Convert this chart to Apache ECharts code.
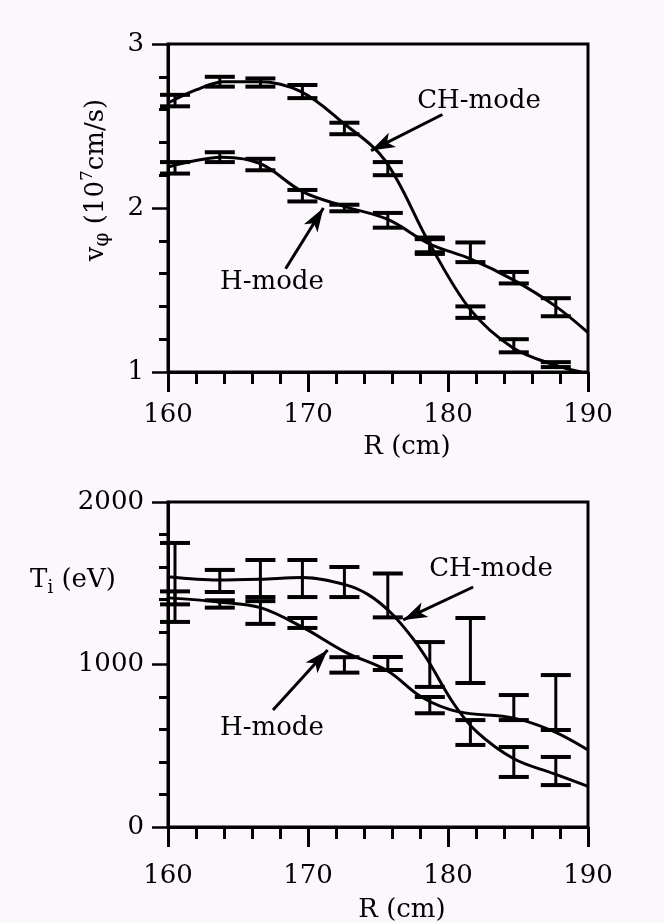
<!DOCTYPE html>
<html>
<head>
<meta charset="utf-8">
<script src="https://cdn.jsdelivr.net/npm/echarts@6/dist/echarts.min.js"></script>
<style>
html,body{margin:0;padding:0;background:#fcf7fc;}
#c{width:664px;height:923px;}
</style>
</head>
<body>
<div id="c"></div>
<script>
// ---- data ----
const radius = [160.5, 163.7, 166.6, 169.6, 172.6, 175.7, 178.7, 181.6, 184.7, 187.7];

// top panel: toroidal velocity v_phi (10^7 cm/s), error bar low/high
const chVLow  = [2.62, 2.74, 2.74, 2.67, 2.45, 2.20, 1.72, 1.33, 1.12, 1.03];
const chVHigh = [2.69, 2.80, 2.79, 2.75, 2.52, 2.28, 1.82, 1.40, 1.20, 1.06];
const hVLow   = [2.21, 2.28, 2.23, 2.04, 1.98, 1.88, 1.73, 1.67, 1.54, 1.34];
const hVHigh  = [2.28, 2.34, 2.30, 2.11, 2.02, 1.97, 1.81, 1.79, 1.61, 1.45];
// fitted curves (top)
const chVFitR = [160, 162, 164, 166.5, 169.5, 172.5, 175.5, 178.7, 181.6, 184.6, 187.7, 189.5];
const chVFit  = [2.64, 2.72, 2.77, 2.77, 2.71, 2.52, 2.29, 1.78, 1.38, 1.15, 1.04, 1.0];
const hVFitR  = [160, 163.9, 166.6, 169.6, 172.6, 175.7, 178.7, 181.6, 184.7, 187.7, 190];
const hVFit   = [2.25, 2.31, 2.27, 2.10, 2.01, 1.93, 1.78, 1.69, 1.56, 1.40, 1.24];

// bottom panel: ion temperature T_i (eV), error bar low/high
const chTLow  = [1262, 1446, 1415, 1415, 1415, 1290, 862, 505, 308, 258];
const chTHigh = [1748, 1582, 1643, 1643, 1600, 1560, 1138, 658, 492, 431];
const hTLow   = [1370, 1350, 1250, 1225, 950, 966, 700, 886, 658, 597];
const hTHigh  = [1450, 1395, 1390, 1286, 1045, 1046, 800, 1286, 812, 935];
// fitted curves (bottom)
const chTFitR = [160, 163.6, 166.6, 169.6, 172.7, 174.3, 175.9, 177.4, 178.6, 180.4, 182, 184.7, 187.5, 190];
const chTFit  = [1540, 1520, 1525, 1535, 1490, 1430, 1320, 1170, 1020, 760, 590, 420, 330, 250];
const hTFitR  = [160, 163.6, 166.6, 169.6, 172.7, 175.7, 178.1, 180.7, 184.7, 187.5, 190];
const hTFit   = [1410, 1385, 1350, 1230, 1075, 960, 800, 710, 670, 590, 474];

// axis ticks
const xTicks = [160, 170, 180, 190];
const vTicks = [1, 2, 3];
const tTicks = [0, 1000, 2000];

// annotation arrows (data coords: from label to curve)
const arrowTopCH = [[179.6, 2.57], [174.5, 2.35]];
const arrowTopH  = [[168.4, 1.63], [171.1, 2.00]];
const arrowBotCH = [[181.8, 1477], [176.8, 1274]];
const arrowBotH  = [[167.5, 720], [171.4, 1089]];

// ---- chart ----
const INK = '#000';
const FONT = 'DejaVu Serif';
const chart = echarts.init(document.getElementById('c'));

function pairs(xs, ys) { return xs.map((x, i) => [x, ys[i]]); }
function triples(xs, lo, hi) { return xs.map((x, i) => [x, lo[i], hi[i]]); }

function errRender(params, api) {
  const x = api.value(0), lo = api.value(1), hi = api.value(2);
  const a = api.coord([x, lo]), b = api.coord([x, hi]);
  const hw = 15;
  return {
    type: 'group',
    children: [
      { type: 'line', shape: { x1: a[0], y1: a[1], x2: b[0], y2: b[1] }, style: { stroke: INK, lineWidth: 3 } },
      { type: 'line', shape: { x1: a[0] - hw, y1: a[1], x2: a[0] + hw, y2: a[1] }, style: { stroke: INK, lineWidth: 4 } },
      { type: 'line', shape: { x1: b[0] - hw, y1: b[1], x2: b[0] + hw, y2: b[1] }, style: { stroke: INK, lineWidth: 4 } }
    ]
  };
}

function errSeries(xi, yi, data) {
  return {
    type: 'custom', xAxisIndex: xi, yAxisIndex: yi, renderItem: errRender,
    data: data, encode: { x: 0, y: [1, 2] }, silent: true, clip: false, z: 3
  };
}

function arrowLine(seg) {
  return {
    silent: true, animation: false,
    symbol: ['none', 'arrow'], symbolSize: [12, 24],
    lineStyle: { color: INK, width: 3, type: 'solid' },
    label: { show: false },
    data: [[{ coord: seg[0] }, { coord: seg[1] }]]
  };
}

function fitSeries(xi, yi, data, arrow) {
  return {
    type: 'line', xAxisIndex: xi, yAxisIndex: yi, data: data, smooth: 0.35,
    showSymbol: false, symbol: 'none', clip: true, silent: true,
    lineStyle: { color: INK, width: 3 }, z: 4,
    markLine: arrowLine(arrow)
  };
}

const xAxisBase = (gi, margin) => ({
  type: 'value', gridIndex: gi, min: 160, max: 190, interval: 10,
  axisLine: { show: true, onZero: false, lineStyle: { color: INK, width: 3 } },
  axisTick: { show: true, length: 20, lineStyle: { color: INK, width: 3 } },
  minorTick: { show: true, splitNumber: 5, length: 12, lineStyle: { color: INK, width: 3 } },
  splitLine: { show: false }, minorSplitLine: { show: false },
  axisLabel: { fontFamily: FONT, fontSize: 26, color: INK, margin: margin,
    customValues: xTicks, formatter: v => String(v) }
});

const yAxisBase = (gi, min, max, interval, ticks) => ({
  type: 'value', gridIndex: gi, min: min, max: max, interval: interval,
  axisLine: { show: true, onZero: false, lineStyle: { color: INK, width: 3 } },
  axisTick: { show: true, length: 16, lineStyle: { color: INK, width: 2.5 } },
  minorTick: { show: true, splitNumber: 5, length: 9, lineStyle: { color: INK, width: 3 } },
  splitLine: { show: false }, minorSplitLine: { show: false },
  axisLabel: { fontFamily: FONT, fontSize: 26, color: INK, margin: 24,
    customValues: ticks, formatter: v => String(v) }
});

const txt = (x, y, text, extra) => Object.assign({
  type: 'text', x: x, y: y, silent: true,
  style: Object.assign({ text: text, fill: INK, font: '26px "' + FONT + '"', fontFamily: FONT, fontSize: 26,
    align: 'center', verticalAlign: 'middle', textAlign: 'center', textVerticalAlign: 'middle' }, (extra && extra.style) || {})
}, extra ? { rotation: extra.rotation || 0 } : {});

chart.setOption({
  backgroundColor: '#fcf7fc',
  animation: false,
  grid: [
    { left: 168, right: 76, top: 44, height: 328, show: true, borderColor: INK, borderWidth: 3, backgroundColor: 'transparent' },
    { left: 168, right: 76, top: 502, height: 325, show: true, borderColor: INK, borderWidth: 3, backgroundColor: 'transparent' }
  ],
  xAxis: [ xAxisBase(0, 30), xAxisBase(1, 36) ],
  yAxis: [ yAxisBase(0, 1, 3, 1, vTicks), yAxisBase(1, 0, 2000, 1000, tTicks) ],
  series: [
    fitSeries(0, 0, pairs(chVFitR, chVFit), arrowTopCH),
    fitSeries(0, 0, pairs(hVFitR, hVFit), arrowTopH),
    errSeries(0, 0, triples(radius, chVLow, chVHigh)),
    errSeries(0, 0, triples(radius, hVLow, hVHigh)),
    fitSeries(1, 1, pairs(chTFitR, chTFit), arrowBotCH),
    fitSeries(1, 1, pairs(hTFitR, hTFit), arrowBotH),
    errSeries(1, 1, triples(radius, chTLow, chTHigh)),
    errSeries(1, 1, triples(radius, hTLow, hTHigh))
  ],
  graphic: [
    txt(479, 101, 'CH-mode'),
    txt(272, 282, 'H-mode'),
    txt(491, 569, 'CH-mode'),
    txt(272, 728, 'H-mode'),
    txt(407, 447, 'R (cm)'),
    txt(402, 910, 'R (cm)'),
    txt(73, 580, 'T{sub|i} (eV)', { style: { lineHeight: 34,
      rich: { sub: { fontFamily: FONT, fontSize: 18, verticalAlign: 'bottom', fill: INK, lineHeight: 34 } } } }),
    txt(96, 180, 'v{sub|φ} (10{sup|7}cm/s)', { rotation: Math.PI / 2, style: { lineHeight: 34,
      rich: {
        sub: { fontFamily: FONT, fontSize: 20, verticalAlign: 'bottom', fill: INK, lineHeight: 34 },
        sup: { fontFamily: FONT, fontSize: 17, verticalAlign: 'top', fill: INK, lineHeight: 34 }
      } } })
  ]
});
</script>
</body>
</html>
